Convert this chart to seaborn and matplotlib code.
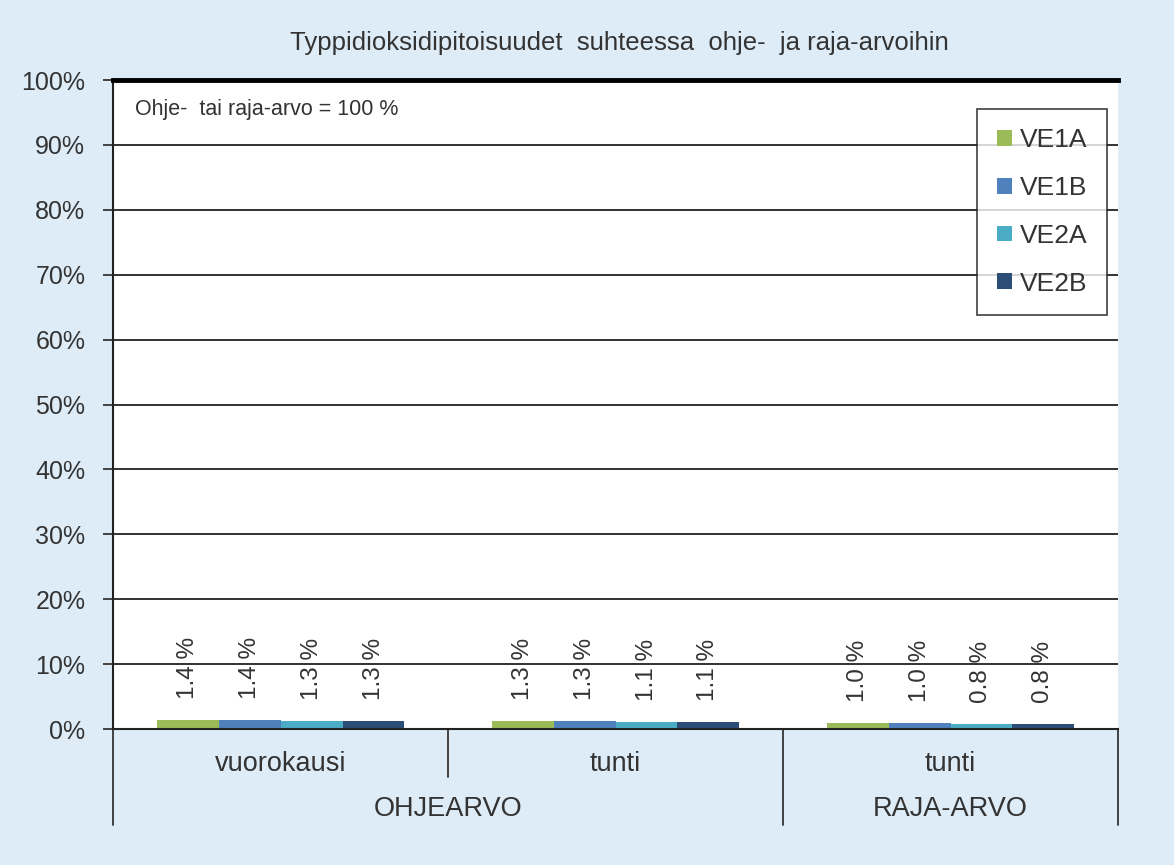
import pandas as pd
import matplotlib.pyplot as plt
import seaborn as sns

# data
categories = ['OHJEARVO vuorokausi', 'OHJEARVO tunti', 'RAJA-ARVO tunti']
sub_labels = ['vuorokausi', 'tunti', 'tunti']
group_labels = ['OHJEARVO', 'RAJA-ARVO']
series = ['VE1A', 'VE1B', 'VE2A', 'VE2B']
ve1a = [1.4, 1.3, 1.0]
ve1b = [1.4, 1.3, 1.0]
ve2a = [1.3, 1.1, 0.8]
ve2b = [1.3, 1.1, 0.8]
colors = ['#9bbb59', '#4f81bd', '#4bacc6', '#2c4d75']

rows = []
for name, vals in zip(series, [ve1a, ve1b, ve2a, ve2b]):
    for cat, v in zip(categories, vals):
        rows.append({'category': cat, 'series': name, 'value': v})
df = pd.DataFrame(rows)

sns.set_theme(style='white')
plt.rcParams['font.family'] = ['Liberation Sans', 'DejaVu Sans']

bg = '#deecf7'
txt = '#333333'
fig = plt.figure(figsize=(11.74, 8.65), dpi=100, facecolor=bg)
ax = fig.add_axes([0.0963, 0.1572, 0.8560, 0.7503])
ax.set_facecolor('white')

sns.barplot(data=df, x='category', y='value', hue='series', order=categories,
            hue_order=series, palette=colors, width=0.74, gap=0, saturation=1,
            ax=ax, linewidth=0)

ax.set_ylim(0, 100)
ax.set_xlim(-0.5, 2.5)
ax.set_yticks(range(0, 101, 10))
ax.set_yticklabels([f'{t}%' for t in range(0, 101, 10)], fontsize=18, color=txt)
ax.yaxis.grid(True, color='#222222', linewidth=1.3)
ax.set_axisbelow(True)
ax.tick_params(axis='y', direction='out', length=7, width=1.3, color=txt, pad=13, left=True)
ax.set_xticks([])
ax.set_xlabel('')
ax.set_ylabel('')

for side in ['left', 'bottom']:
    ax.spines[side].set_color('#222222')
    ax.spines[side].set_linewidth(1.5)
ax.spines['right'].set_visible(False)
ax.spines['top'].set_color('black')
ax.spines['top'].set_linewidth(3.5)

# value labels
for cont in ax.containers:
    for bar in cont:
        h = bar.get_height()
        ax.annotate(f'{h:.1f} %', (bar.get_x() + bar.get_width() / 2, h),
                    xytext=(0, 15), textcoords='offset points', rotation=90,
                    ha='center', va='bottom', fontsize=17.5, color=txt)

# multi-level category axis
tr = ax.get_xaxis_transform()
line_kw = dict(color=txt, linewidth=1.3, clip_on=False, transform=tr)
ax.plot([-0.5, -0.5], [0, -0.148], **line_kw)
ax.plot([0.5, 0.5], [0, -0.074], **line_kw)
ax.plot([1.5, 1.5], [0, -0.148], **line_kw)
ax.plot([2.5, 2.5], [0, -0.148], **line_kw)
for i, lab in enumerate(sub_labels):
    ax.text(i, -0.054, lab, transform=tr, ha='center', va='center',
            fontsize=19.5, color=txt)
ax.text(0.5, -0.124, group_labels[0], transform=tr, ha='center', va='center',
        fontsize=19.5, color=txt)
ax.text(2, -0.124, group_labels[1], transform=tr, ha='center', va='center',
        fontsize=19.5, color=txt)

ax.text(0.022, 0.955, 'Ohje-  tai raja-arvo = 100 %', transform=ax.transAxes,
        ha='left', va='center', fontsize=15.5, color=txt)

fig.text(0.528, 0.95, 'Typpidioksidipitoisuudet  suhteessa  ohje-  ja raja-arvoihin',
         ha='center', va='center', fontsize=18.5, color=txt)

handles, labels = ax.get_legend_handles_labels()
leg = ax.legend(handles, labels, loc='upper right', bbox_to_anchor=(0.989, 0.956),
                fontsize=19, frameon=True, fancybox=False, handlelength=0.55,
                handleheight=0.55, handletextpad=0.3, labelspacing=0.9,
                borderpad=0.75, borderaxespad=0)
leg.get_frame().set_edgecolor('#222222')
leg.get_frame().set_linewidth(1.3)
for t in leg.get_texts():
    t.set_color(txt)

fig.savefig('out.png', dpi=100, facecolor=bg)
